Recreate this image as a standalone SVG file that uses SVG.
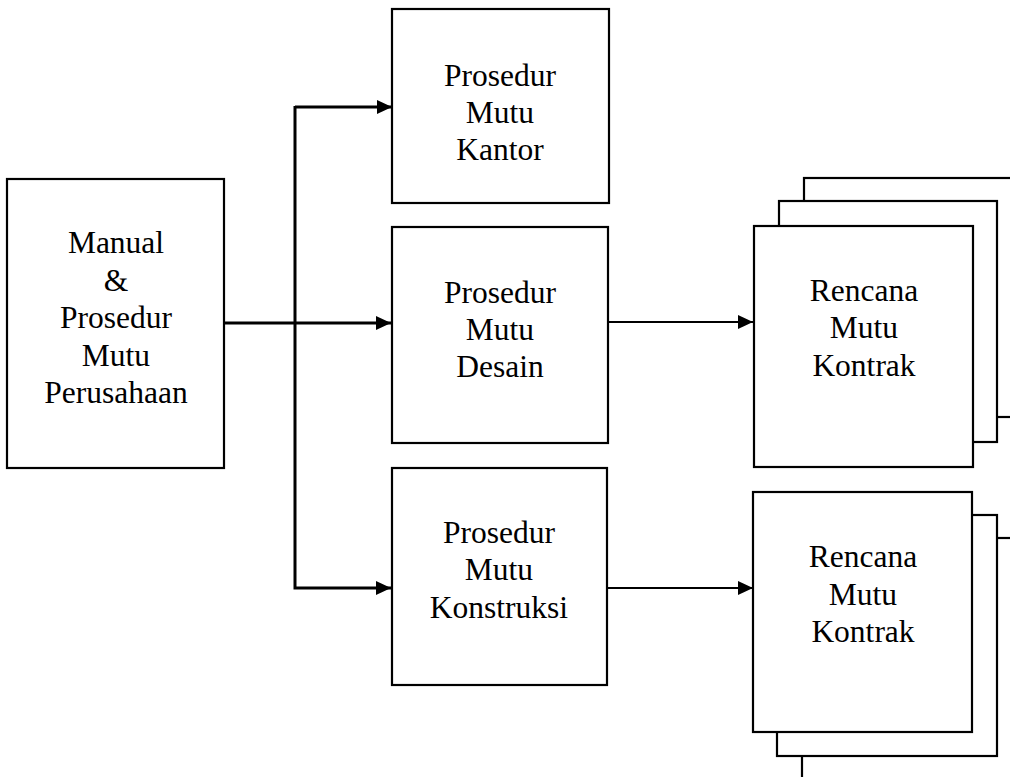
<svg xmlns="http://www.w3.org/2000/svg" width="1010" height="777" viewBox="0 0 1010 777">
  <style>
    .box { fill: #ffffff; stroke: #000000; stroke-width: 2.2; }
    .wire { fill: none; stroke: #000000; stroke-width: 2; }
    .thick { stroke-width: 3; }
    .label { font-family: "Liberation Serif", "Times New Roman", serif; font-size: 31.5px; fill: #000000; text-anchor: middle; }
  </style>
  <defs>
    <marker id="arrow" markerUnits="userSpaceOnUse" markerWidth="16" markerHeight="14" refX="15" refY="7" orient="auto">
      <path d="M0,0 L15,7 L0,14 Z" fill="#000000"/>
    </marker>
  </defs>

  <rect width="1010" height="777" fill="#ffffff"/>

  <!-- connectors -->
  <g id="connectors">
    <path class="wire thick" d="M224,323 L391,323" marker-end="url(#arrow)"/>
    <path class="wire thick" d="M295,107 L392,107" marker-end="url(#arrow)"/>
    <path class="wire thick" d="M295,106 L295,588 L391,588" marker-end="url(#arrow)"/>
    <path class="wire" d="M608,322 L753,322" marker-end="url(#arrow)"/>
    <path class="wire" d="M607,588 L753,588" marker-end="url(#arrow)"/>
  </g>

  <!-- company manual -->
  <g id="manual">
    <rect class="box" x="7" y="179" width="217" height="289"/>
    <text class="label" x="116" y="253">Manual</text>
    <text class="label" x="116" y="291">&amp;</text>
    <text class="label" x="116" y="328">Prosedur</text>
    <text class="label" x="116" y="366">Mutu</text>
    <text class="label" x="116" y="403">Perusahaan</text>
  </g>

  <!-- office procedure -->
  <g id="kantor">
    <rect class="box" x="392" y="9" width="217" height="194"/>
    <text class="label" x="500" y="86">Prosedur</text>
    <text class="label" x="500" y="123">Mutu</text>
    <text class="label" x="500" y="160">Kantor</text>
  </g>

  <!-- design procedure -->
  <g id="desain">
    <rect class="box" x="392" y="227" width="216" height="216"/>
    <text class="label" x="500" y="303">Prosedur</text>
    <text class="label" x="500" y="340">Mutu</text>
    <text class="label" x="500" y="377">Desain</text>
  </g>

  <!-- construction procedure -->
  <g id="konstruksi">
    <rect class="box" x="392" y="468" width="215" height="217"/>
    <text class="label" x="499" y="543">Prosedur</text>
    <text class="label" x="499" y="580">Mutu</text>
    <text class="label" x="499" y="618">Konstruksi</text>
  </g>

  <!-- contract quality plans, stacked sheets -->
  <g id="rencana-desain">
    <rect class="box" x="804" y="178" width="220" height="239"/>
    <rect class="box" x="779" y="201" width="218" height="241"/>
    <rect class="box" x="754" y="226" width="219" height="241"/>
    <text class="label" x="864" y="301">Rencana</text>
    <text class="label" x="864" y="338">Mutu</text>
    <text class="label" x="864" y="376">Kontrak</text>
  </g>

  <g id="rencana-konstruksi">
    <rect class="box" x="802" y="538" width="222" height="260"/>
    <rect class="box" x="777" y="515" width="220" height="241"/>
    <rect class="box" x="753" y="492" width="219" height="240"/>
    <text class="label" x="863" y="567">Rencana</text>
    <text class="label" x="863" y="605">Mutu</text>
    <text class="label" x="863" y="642">Kontrak</text>
  </g>
</svg>
